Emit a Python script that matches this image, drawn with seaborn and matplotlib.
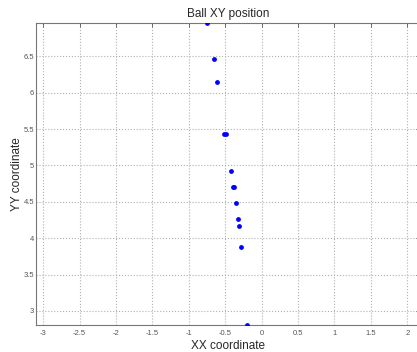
import numpy as np
import pandas as pd
import seaborn as sns
import matplotlib
matplotlib.use("Agg")
import matplotlib.pyplot as plt

# ball positions
ball_x = [-0.75, -0.66, -0.61, -0.52, -0.49, -0.42, -0.39, -0.38,
          -0.35, -0.325, -0.31, -0.28, -0.20]
ball_y = [6.96, 6.46, 6.15, 5.44, 5.44, 4.93, 4.70, 4.70,
          4.48, 4.27, 4.17, 3.88, 2.81]

x_ticks = [-3, -2.5, -2, -1.5, -1, -0.5, 0, 0.5, 1, 1.5, 2]
y_ticks = [3, 3.5, 4, 4.5, 5, 5.5, 6, 6.5]

df = pd.DataFrame({"x": ball_x, "y": ball_y})

sns.set_style("white")
plt.rcParams["font.family"] = ["Liberation Sans", "DejaVu Sans"]

fig = plt.figure(figsize=(4.17, 3.52), dpi=100)
# axes: 36px from left, runs past the right edge like the cropped original
ax = fig.add_axes([36 / 417, 1 - 324.7 / 352, 384 / 417, (324.7 - 23) / 352])

sns.scatterplot(data=df, x="x", y="y", ax=ax, color="blue",
                s=12, linewidth=0, zorder=3, legend=False)

ax.set_xlim(-3.1, 2.175)
ax.set_ylim(2.81, 6.96)
ax.set_xticks(x_ticks)
ax.set_yticks(y_ticks)
ax.set_xticklabels([f"{t:g}" for t in x_ticks])
ax.set_yticklabels([f"{t:g}" for t in y_ticks])

ax.grid(True, linestyle=":", color="#b0b0b0", linewidth=0.8)
ax.tick_params(direction="in", length=3, width=0.6, colors="#555555",
               labelsize=5.5, top=True, right=True)
ax.tick_params(axis="x", pad=4)
ax.tick_params(axis="y", pad=1.2)
for sp in ax.spines.values():
    sp.set_color("#777777")
    sp.set_linewidth(0.8)

ax.set_title("Ball XY position", fontsize=8.5, pad=4)
ax.set_xlabel("XX coordinate", fontsize=8.5, labelpad=2)
ax.set_ylabel("YY coordinate", fontsize=8.5)
ax.yaxis.set_label_coords(-0.034, 0.5)

fig.savefig("out.png", dpi=100)
